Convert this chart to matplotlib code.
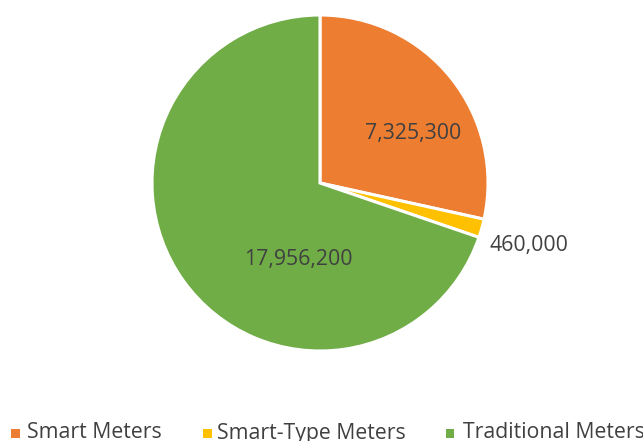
import matplotlib
matplotlib.use("Agg")
import matplotlib.pyplot as plt
from matplotlib.patches import Rectangle

categories = ["Smart Meters", "Smart-Type Meters", "Traditional Meters"]
values = [7325300, 460000, 17956200]
colors = ["#ED7D31", "#FFC000", "#70AD47"]
value_labels = ["7,325,300", "460,000", "17,956,200"]

plt.rcParams['font.family'] = ['Open Sans', 'DejaVu Sans']
txt = "#404040"

fig = plt.figure(figsize=(6.43, 4.41), dpi=100)
W, H = 643, 441
cx, cy, r = 320, 183, 168
ax = fig.add_axes([(cx - r) / W, (H - cy - r) / H, 2 * r / W, 2 * r / H])
wedges, _ = ax.pie(values, colors=colors, startangle=90, counterclock=False,
                   radius=1, wedgeprops=dict(edgecolor="white", linewidth=2.2))
ax.set_xlim(-1, 1)
ax.set_ylim(-1, 1)
ax.set_aspect("equal")
ax.axis("off")

# label positions (pixel coords)
label_pos = [(413, 134), (529, 246), (298, 259)]
for (px, py), lab in zip(label_pos, value_labels):
    fig.text(px / W, 1 - py / H, lab, ha="center", va="center", fontsize=15.3, color=txt)

# legend
leg_sq = [15, 207, 450]
leg_tx = [27, 217, 463]
ly = 433
for sx, tx, c, name in zip(leg_sq, leg_tx, colors, categories):
    fig.patches.append(Rectangle(((sx - 4.5) / W, 1 - (ly + 4.5) / H), 9 / W, 9 / H,
                                 transform=fig.transFigure, facecolor=c, edgecolor="none"))
    fig.text(tx / W, 1 - ly / H, name, ha="left", va="center", fontsize=15.3, color=txt)

fig.savefig("out.png", dpi=100, facecolor="white")
